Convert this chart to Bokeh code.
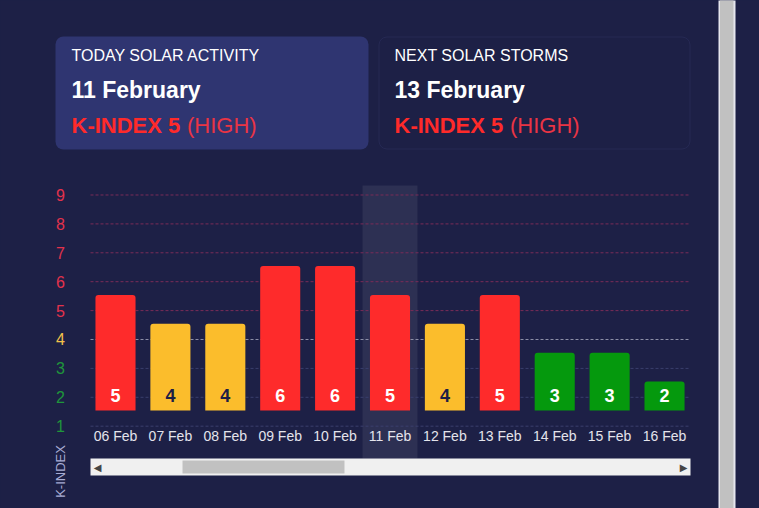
from math import pi
from bokeh.plotting import figure
from bokeh.models import (Range1d, FixedTicker, LabelSet, Label,
                          BoxAnnotation, ColumnDataSource, GlobalInlineStyleSheet)
from bokeh.core.properties import value
from bokeh.embed import file_html
from bokeh.resources import INLINE

# ---------------- data ----------------
dates = ["06 Feb", "07 Feb", "08 Feb", "09 Feb", "10 Feb", "11 Feb",
         "12 Feb", "13 Feb", "14 Feb", "15 Feb", "16 Feb"]
k_index = [5, 4, 4, 6, 6, 5, 4, 5, 3, 3, 2]
levels = [1, 2, 3, 4, 5, 6, 7, 8, 9]
today = "11 Feb"
today_title = "TODAY SOLAR ACTIVITY"
today_date = "11 February"
next_title = "NEXT SOLAR STORMS"
next_date = "13 February"
next_day = "13 Feb"
axis_title = "K-INDEX"

# ---------------- styles ----------------
BG = "#1d2046"
CARD = "#2f3571"
FONT = "Liberation Sans"
BAR_RED, BAR_YEL, BAR_GRN = "#fe2b2b", "#fbbd2c", "#05990d"
LAB_RED, LAB_YEL, LAB_GRN = "#e3324c", "#f2c14a", "#1f963b"
GRID_RED, GRID_YEL, GRID_GRN = "#7a2c58", "#8e90a8", "#3a3f6d"

# plot-area layout (page pixels)
PLOT_L, PLOT_R, PLOT_T, PLOT_B = 90, 690, 185, 458
W, H = 759, 508


def bar_color(k):
    return BAR_RED if k >= 5 else (BAR_YEL if k == 4 else BAR_GRN)


def label_color(k):
    return LAB_RED if k >= 5 else (LAB_YEL if k == 4 else LAB_GRN)


def grid_color(k):
    return GRID_RED if k >= 5 else (GRID_YEL if k == 4 else GRID_GRN)


def level_name(k):
    return "HIGH" if k >= 5 else ("MEDIUM" if k == 4 else "LOW")


pos = list(range(len(dates)))
today_k = k_index[dates.index(today)]
next_k = k_index[dates.index(next_day)]

# scales: date index and K level mapped onto the page
k_start, k_end = -1.848, 15.730
bar_shift = 0.543

p = figure(x_range=Range1d(-2.0947, 11.730), y_range=Range1d(k_start, k_end),
           width=W, height=H, output_backend="svg", toolbar_location=None,
           y_axis_location=None,
           min_border_left=0, min_border_right=0, min_border_top=0, min_border_bottom=0,
           background_fill_color=BG, border_fill_color=BG, outline_line_color=None)
p.stylesheets = [GlobalInlineStyleSheet(
    css="html, body {margin:0 !important; padding:0; background:%s; overflow:hidden;}" % BG)]

p.extra_y_ranges = {"bars": Range1d(k_start - bar_shift, k_end - bar_shift),
                    "sy": Range1d(H, 0)}
p.extra_x_ranges = {"sx": Range1d(0, W)}
p.xgrid.visible = False
p.ygrid.visible = False

# today highlight column
p.vbar(x=[dates.index(today)], top=PLOT_T, bottom=PLOT_B, width=1.0, y_range_name="sy",
       fill_color="white", fill_alpha=0.075, line_color=None)

# dashed level lines
gsrc = ColumnDataSource(dict(level=levels, color=[grid_color(k) for k in levels],
                             x0=[PLOT_L] * len(levels), x1=[PLOT_R] * len(levels)))
p.segment(x0="x0", x1="x1", y0="level", y1="level", source=gsrc, x_range_name="sx",
          line_color="color", line_width=1, line_dash="3 2")

# bars
src = ColumnDataSource(dict(
    pos=pos, date=dates, k=k_index,
    color=[bar_color(k) for k in k_index],
    tcolor=["#1d2046" if k == 4 else "white" for k in k_index],
    label=[str(k) for k in k_index],
    base=[levels[0]] * len(k_index),
))
p.vbar(x="pos", top="k", bottom="base", width=0.73, y_range_name="bars",
       source=src, fill_color="color", line_color=None, border_radius=(3, 3, 0, 0))
p.text(x="pos", y="base", text="label", y_range_name="bars", source=src,
       text_color="tcolor", text_font=value(FONT), text_font_style="bold",
       text_font_size="18px", text_align="center", text_baseline="middle", y_offset=-15)

# x axis (dates)
ax = p.xaxis[0]
ax.ticker = FixedTicker(ticks=pos)
ax.major_label_overrides = {i: d for i, d in zip(pos, dates)}
ax.axis_line_color = None
ax.major_tick_line_color = None
ax.minor_tick_line_color = None
ax.major_label_standoff = -87
ax.major_label_text_font = FONT
ax.major_label_text_font_size = "14px"
ax.major_label_text_color = "#e4e4ec"

# y labels (coloured per level)
lsrc = ColumnDataSource(dict(level=levels, text=[str(k) for k in levels],
                             color=[label_color(k) for k in levels]))
p.add_layout(LabelSet(x=60, y="level", text="text", source=lsrc, x_range_name="sx",
                      text_color="color", text_font=value(FONT), text_font_size="16px",
                      text_align="center", text_baseline="middle"))
p.add_layout(Label(x=60, y=471, x_range_name="sx", y_range_name="sy", text=axis_title,
                   angle=pi / 2, text_align="center", text_baseline="middle",
                   text_font=FONT, text_font_size="13px", text_color="#a8acd4"))

# cards
p.add_layout(BoxAnnotation(left=55, right=368, top=36, bottom=149, x_range_name="sx",
                           y_range_name="sy", fill_color=CARD, fill_alpha=1,
                           line_color=None, border_radius=8))
p.add_layout(BoxAnnotation(left=378.5, right=689.5, top=36.5, bottom=148.5, x_range_name="sx",
                           y_range_name="sy", fill_alpha=0, line_color="#3b4075",
                           line_width=1, border_radius=8))


def card_texts(x0, title, date, k):
    p.add_layout(Label(x=x0, y=55, x_range_name="sx", y_range_name="sy", text=title,
                       text_baseline="middle", text_font=FONT, text_font_size="16px",
                       text_color="white"))
    p.add_layout(Label(x=x0, y=89, x_range_name="sx", y_range_name="sy", text=date,
                       text_baseline="middle", text_font=FONT, text_font_size="23px",
                       text_font_style="bold", text_color="white"))
    p.add_layout(Label(x=x0, y=125, x_range_name="sx", y_range_name="sy",
                       text="K-INDEX %d" % k, text_baseline="middle", text_font=FONT,
                       text_font_size="22px", text_font_style="bold", text_color="#ff2a2a"))
    p.add_layout(Label(x=x0 + 115.5, y=125, x_range_name="sx", y_range_name="sy",
                       text="(%s)" % level_name(k), text_baseline="middle", text_font=FONT,
                       text_font_size="22px", text_color="#ea3444"))


card_texts(71, today_title, today_date, today_k)
card_texts(394, next_title, next_date, next_k)

# horizontal scrollbar
p.add_layout(BoxAnnotation(left=PLOT_L, right=PLOT_R, top=458, bottom=475, x_range_name="sx",
                           y_range_name="sy", fill_color="#f0f0f0", fill_alpha=1, line_color=None))
p.add_layout(BoxAnnotation(left=182, right=344, top=460, bottom=473, x_range_name="sx",
                           y_range_name="sy", fill_color="#c1c1c1", fill_alpha=1, line_color=None))
p.add_layout(Label(x=97, y=466.5, x_range_name="sx", y_range_name="sy", text="◀",
                   text_align="center", text_baseline="middle", text_font="DejaVu Sans",
                   text_font_size="10px", text_color="#454545"))
p.add_layout(Label(x=683, y=466.5, x_range_name="sx", y_range_name="sy", text="▶",
                   text_align="center", text_baseline="middle", text_font="DejaVu Sans",
                   text_font_size="10px", text_color="#454545"))

# page scrollbar on the right
p.add_layout(BoxAnnotation(left=718, right=735, top=-20, bottom=530, x_range_name="sx",
                           y_range_name="sy", fill_color="#e6e6ee", fill_alpha=1, line_color=None))
p.add_layout(BoxAnnotation(left=719.5, right=733, top=-20, bottom=530, x_range_name="sx",
                           y_range_name="sy", fill_color="#c1c1c1", fill_alpha=1, line_color=None))

open("out.html", "w").write(file_html(p, INLINE))
